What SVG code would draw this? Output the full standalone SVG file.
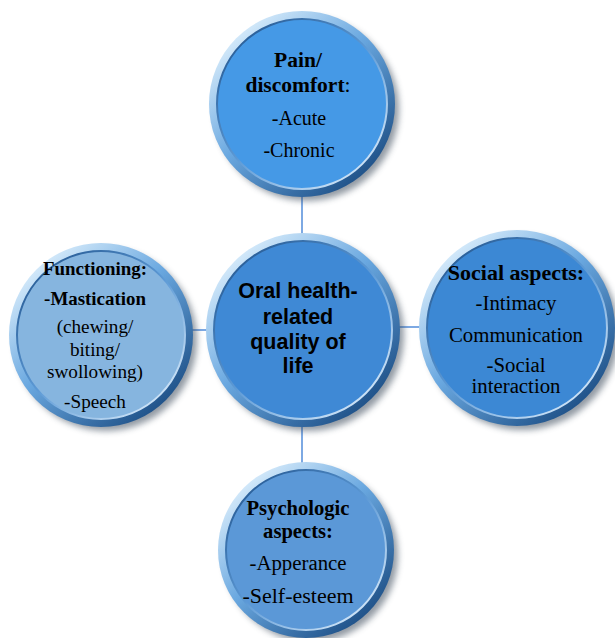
<svg xmlns="http://www.w3.org/2000/svg" width="615" height="638" viewBox="0 0 615 638">
<defs>
<filter id="sh" x="-20%" y="-20%" width="150%" height="150%"><feGaussianBlur stdDeviation="3"/></filter>
<linearGradient id="rim" x1="0.15" y1="0.1" x2="0.85" y2="0.9">
<stop offset="0" stop-color="#d8ecfb"/>
<stop offset="0.45" stop-color="#6aa8e0"/>
<stop offset="1" stop-color="#1d4f86"/>
</linearGradient>
<linearGradient id="rimIn" x1="0.85" y1="0.9" x2="0.15" y2="0.1">
<stop offset="0" stop-color="#cfe4f7"/>
<stop offset="0.5" stop-color="#5d9ad6"/>
<stop offset="1" stop-color="#2a5f99"/>
</linearGradient>
</defs>
<style>
.shadow{fill:#3a4a5a;opacity:0.55;filter:url(#sh)}
.rim{fill:url(#rim)}
.inner{stroke:url(#rimIn);stroke-width:2}
.h{font-family:"Liberation Serif","Times New Roman",serif;font-weight:bold;font-size:21.5px;fill:#000;text-anchor:middle}
.t{font-family:"Liberation Serif","Times New Roman",serif;font-size:20px;fill:#000;text-anchor:middle}
.c{font-family:"Liberation Sans",Arial,sans-serif;font-weight:bold;font-size:21.5px;fill:#000;text-anchor:middle}
.conn{stroke:#7da9e3;stroke-width:2;fill:none}
</style>
<rect width="615" height="638" fill="#fff"/>
<g id="connectors">
<line class="conn" x1="302" y1="195" x2="302" y2="236"/>
<line class="conn" x1="190" y1="330" x2="208" y2="330"/>
<line class="conn" x1="398" y1="327" x2="422" y2="327"/>
<line class="conn" x1="302" y1="424" x2="302" y2="466"/>
</g>
<g id="top">
<circle class="shadow" cx="307" cy="109" r="92"/>
<circle class="rim" cx="302" cy="104" r="93"/>
<circle class="inner" cx="302" cy="104" r="85" fill="#4599e6"/>
<text class="h" x="298" y="67">Pain/</text>
<text class="h" x="298" y="92">discomfort<tspan font-weight="normal" style="font-weight:normal">:</tspan></text>
<text class="t" x="299" y="125">-Acute</text>
<text class="t" x="299" y="157">-Chronic</text>
</g>
<g id="left">
<circle class="shadow" cx="106" cy="340" r="91"/>
<circle class="rim" cx="101" cy="335" r="92"/>
<circle class="inner" cx="101" cy="335" r="84" fill="#86b5df"/>
<text class="h" x="95" y="275" style="font-size:18.9px">Functioning:</text>
<text class="h" x="95" y="305" style="font-size:18.9px">-Mastication</text>
<text class="t" x="95" y="333" style="font-size:19.2px">(chewing/</text>
<text class="t" x="95" y="356" style="font-size:19.2px">biting/</text>
<text class="t" x="95" y="378" style="font-size:19.2px">swollowing)</text>
<text class="t" x="95" y="408" style="font-size:19.2px">-Speech</text>
</g>
<g id="right">
<circle class="shadow" cx="522" cy="333" r="97"/>
<circle class="rim" cx="517" cy="328" r="98"/>
<circle class="inner" cx="517" cy="328" r="90" fill="#3c88d4"/>
<text class="h" x="516" y="280" style="font-size:22px">Social aspects:</text>
<text class="t" x="516" y="310" style="font-size:20.8px">-Intimacy</text>
<text class="t" x="516" y="342" style="font-size:20.8px">Communication</text>
<text class="t" x="516" y="372" style="font-size:20.8px">-Social</text>
<text class="t" x="516" y="393" style="font-size:20.8px">interaction</text>
</g>
<g id="center">
<circle class="shadow" cx="308" cy="335" r="96"/>
<circle class="rim" cx="303" cy="330" r="97"/>
<circle class="inner" cx="303" cy="330" r="89" fill="#3f89d5"/>
<text class="c" x="298" y="298">Oral health-</text>
<text class="c" x="298" y="324">related</text>
<text class="c" x="298" y="349">quality of</text>
<text class="c" x="298" y="373">life</text>
</g>
<g id="bottom">
<circle class="shadow" cx="311" cy="555" r="87"/>
<circle class="rim" cx="306" cy="550" r="88"/>
<circle class="inner" cx="306" cy="550" r="80" fill="#5b98d7"/>
<text class="h" x="298" y="515" style="font-size:20.6px">Psychologic</text>
<text class="h" x="298" y="538" style="font-size:20.6px">aspects:</text>
<text class="t" x="298" y="570" style="font-size:20.8px">-Apperance</text>
<text class="t" x="298" y="603" style="font-size:22px">-Self-esteem</text>
</g>
</svg>
